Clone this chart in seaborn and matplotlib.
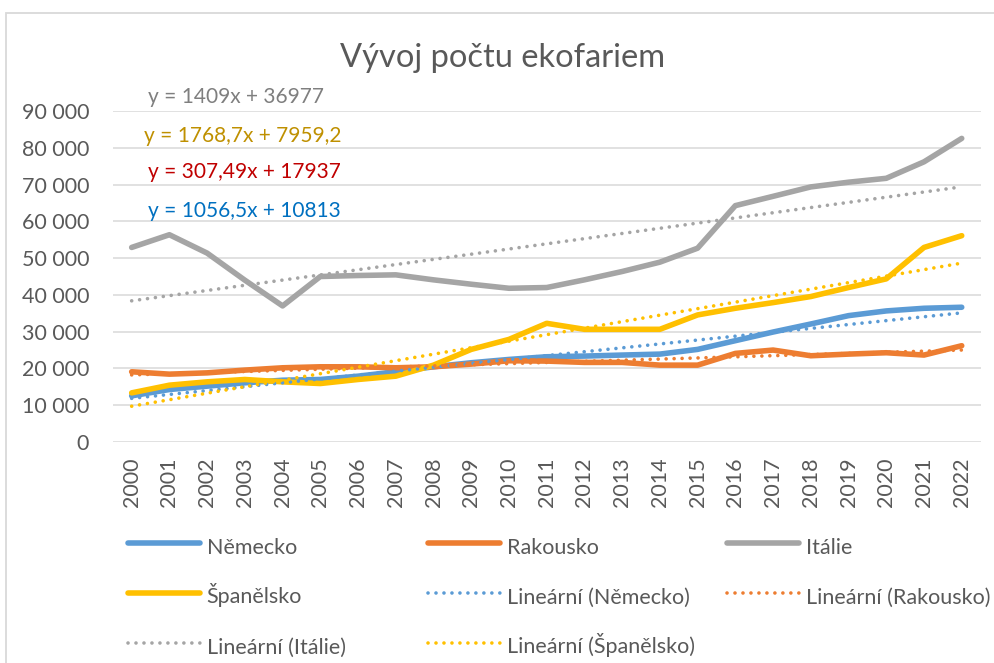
import seaborn as sns
import matplotlib.pyplot as plt
import pandas as pd
from matplotlib.lines import Line2D
from matplotlib.patches import Rectangle
from matplotlib.ticker import FuncFormatter

# Data
years = list(range(2000, 2023))
nemecko = [12550, 14270, 15180, 16090, 16800, 17000, 17900, 19090, 20450, 21550, 22450, 23180,
           23360, 23640, 23900, 25180, 27550, 29900, 32090, 34360, 35640, 36360, 36640]
rakousko = [19090, 18450, 18800, 19550, 20180, 20450, 20450, 20180, 20450, 21180, 22090, 22000,
            21640, 21640, 20900, 20900, 24090, 25000, 23450, 23900, 24270, 23640, 26180]
italie = [52900, 56360, 51360, 44000, 37000, 45000, 45270, 45450, 44090, 42900, 41800, 42000,
          44090, 46360, 48900, 52700, 64270, 66800, 69360, 70640, 71700, 76180, 82550]
spanelsko = [13360, 15450, 16360, 17000, 16360, 15900, 17000, 17900, 20900, 25180, 27900, 32270,
             30640, 30640, 30640, 34550, 36360, 37900, 39550, 42000, 44360, 52900, 56100]

countries = ['Německo', 'Rakousko', 'Itálie', 'Španělsko']
series = [nemecko, rakousko, italie, spanelsko]
colours = ['#5B9BD5', '#ED7D31', '#A5A5A5', '#FFC000']

# Excel trend lines (x = 1..23)
slopes = [1056.5, 307.49, 1409, 1768.7]
intercepts = [10813, 17937, 36977, 7959.2]
eq_labels = ['y = 1056,5x + 10813', 'y = 307,49x + 17937', 'y = 1409x + 36977', 'y = 1768,7x + 7959,2']
eq_colours = ['#0070C0', '#C00000', '#7F7F7F', '#BF9000']

# Settings
sns.set_style('white')
plt.rcParams['font.family'] = ['Lato', 'DejaVu Sans']
text_grey = '#595959'
dotted = (0, (0.01, 2.2))

rows = []
for name, vals in zip(countries, series):
    for yr, v in zip(years, vals):
        rows.append({'year': yr, 'count': v, 'country': name})
df = pd.DataFrame(rows)

trend_rows = []
for name, k, q in zip(countries, slopes, intercepts):
    for i, yr in enumerate(years):
        trend_rows.append({'year': yr, 'count': k * (i + 1) + q, 'country': name})
trend = pd.DataFrame(trend_rows)

fig = plt.figure(figsize=(9.95, 6.63), dpi=100)
ax = fig.add_axes([112.8 / 995, (663 - 442) / 663, 867.8 / 995, 331 / 663])

sns.lineplot(data=df, x='year', y='count', hue='country', hue_order=countries,
             palette=dict(zip(countries, colours)), linewidth=4, legend=False,
             solid_capstyle='round', solid_joinstyle='round', ax=ax)
for name, col in zip(countries, colours):
    sns.lineplot(data=trend[trend['country'] == name], x='year', y='count', color=col,
                 linewidth=2.6, linestyle=dotted, dash_capstyle='round', ax=ax)

ax.set_xlim(1999.5, 2022.5)
ax.set_ylim(0, 90000)
ax.set_xticks(years)
ax.set_yticks(range(0, 90001, 10000))
ax.yaxis.set_major_formatter(FuncFormatter(lambda v, p: f'{v:,.0f}'.replace(',', ' ')))
ax.tick_params(axis='x', labelrotation=90, length=0, pad=11, labelsize=15.5, labelcolor=text_grey)
ax.tick_params(axis='y', length=0, pad=17, labelsize=15.5, labelcolor=text_grey)
ax.set_xlabel('')
ax.set_ylabel('')
ax.grid(axis='y', color='#D9D9D9', linewidth=1.1)
ax.grid(axis='x', visible=False)
for s in ax.spines.values():
    s.set_visible(False)

# Trend equations
eq_pos = [(0.041, 0.698), (0.041, 0.816), (0.041, 1.042), (0.036, 0.924)]
for lab, col, (px, py) in zip(eq_labels, eq_colours, eq_pos):
    ax.text(px, py, lab, color=col, fontsize=15, ha='left', va='center',
            transform=ax.transAxes, clip_on=False)

# Title
fig.text(0.5055, (663 - 67) / 663, 'Vývoj počtu ekofariem', ha='center', va='baseline',
         fontsize=23.5, color=text_grey)

# Legend in three equal-width columns like Excel
solid = [Line2D([], [], color=c, lw=4, solid_capstyle='round') for c in colours]
dots = [Line2D([], [], color=c, lw=2.6, linestyle=dotted, dash_capstyle='round') for c in colours]
lin = ['Lineární (' + c + ')' for c in countries]
columns = [
    ([solid[0], solid[3], dots[2]], [countries[0], countries[3], lin[2]]),
    ([solid[1], dots[0], dots[3]], [countries[1], lin[0], lin[3]]),
    ([solid[2], dots[1]], [countries[2], lin[1]]),
]
col_x = [128 / 995, 428 / 995, 727 / 995]
for (hs, ls), x0 in zip(columns, col_x):
    # tall handle boxes keep every row the same height, so rows line up across columns
    leg = fig.legend(hs, ls, loc='upper left', bbox_to_anchor=(x0, (663 - 532) / 663),
                     frameon=False, fontsize=15.5, labelcolor=text_grey, handlelength=3.35,
                     handleheight=1.7, handletextpad=0.3, labelspacing=0.97,
                     borderpad=0, borderaxespad=0)

# Chart area border
fig.patches.append(Rectangle((6 / 995, -0.1), 1.2, 0.1 + (663 - 13) / 663, transform=fig.transFigure,
                             fill=False, edgecolor='#D9D9D9', linewidth=1.3))

plt.savefig('out.png', dpi=100)
